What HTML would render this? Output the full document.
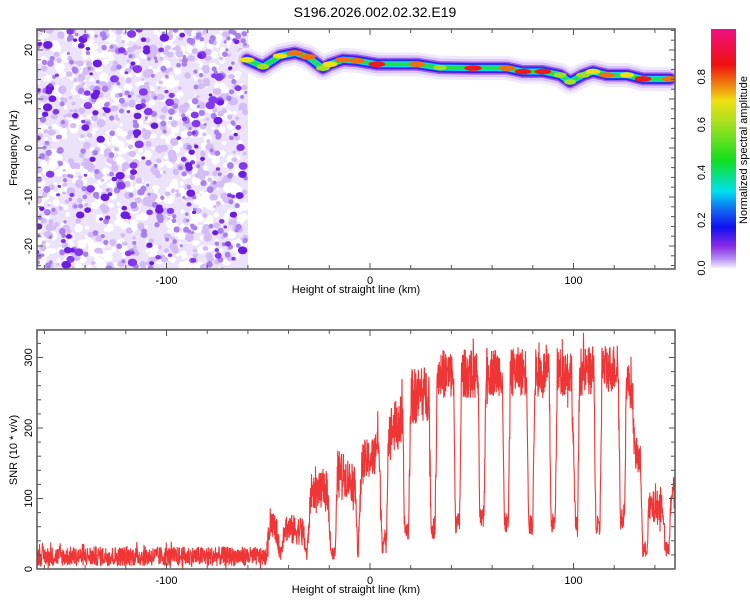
<!DOCTYPE html>
<html><head><meta charset="utf-8"><style>
body{margin:0;background:#fff;}
svg{display:block;font-family:"Liberation Sans",sans-serif;}
</style></head><body>
<svg id="chart" width="750" height="600" viewBox="0 0 750 600">
<defs>
<linearGradient id="cbar" x1="0" y1="1" x2="0" y2="0">
<stop offset="0" stop-color="#f4eefc"/><stop offset="0.04" stop-color="#b48cf2"/>
<stop offset="0.09" stop-color="#8a2be8"/><stop offset="0.17" stop-color="#1010f0"/>
<stop offset="0.25" stop-color="#1070f0"/><stop offset="0.32" stop-color="#00e0f0"/>
<stop offset="0.45" stop-color="#10e020"/><stop offset="0.6" stop-color="#a0e020"/>
<stop offset="0.7" stop-color="#f0e010"/><stop offset="0.78" stop-color="#f07010"/>
<stop offset="0.85" stop-color="#f01010"/><stop offset="1" stop-color="#f01080"/>
</linearGradient>
<clipPath id="clipTop"><rect x="37" y="29" width="638" height="240"/></clipPath>
<clipPath id="clipBot"><rect x="37" y="330" width="638" height="239"/></clipPath>
</defs>
<text x="375" y="17" text-anchor="middle" font-size="14">S196.2026.002.02.32.E19</text>
<g id="topPlot" clip-path="url(#clipTop)"></g>
<g id="botPlot" clip-path="url(#clipBot)"></g>
<g id="axes"></g>
<rect x="711" y="29" width="25" height="239" fill="url(#cbar)"/>
<text transform="translate(747,150) rotate(-90)" text-anchor="middle" font-size="11">Normalized spectral amplitude</text>
<text transform="translate(17,148) rotate(-90)" text-anchor="middle" font-size="11">Frequency (Hz)</text>
<text x="356" y="293" text-anchor="middle" font-size="11">Height of straight line (km)</text>
<text transform="translate(17,450) rotate(-90)" text-anchor="middle" font-size="11">SNR (10 * v/v)</text>
<text x="356" y="593" text-anchor="middle" font-size="11">Height of straight line (km)</text>
</svg>
<script>
// ---- data ----
const ridgeKm   = [-60.4,-52.6,-44.2,-36.9,-30.5,-23.1,-19.7,-13.3,-6.4,3.4,23.1,34.4,50.6,67.3,75.2,85,93.4,98.3,104.7,109.6,116.5,126.3,134.2,147.4];
const ridgeFreq = [18.0,16.6,18.8,19.4,18.6,16.3,17.1,18.0,17.8,17.1,17.1,16.4,16.3,16.3,15.6,15.6,14.9,13.5,14.9,15.6,14.9,14.9,14.1,14.1];
const ridgeAmp  = [0.75,0.55,0.7,0.85,0.8,0.65,0.75,0.85,0.8,0.9,0.85,0.6,0.95,0.85,0.9,0.88,0.6,0.5,0.65,0.75,0.8,0.7,0.9,0.85];
const snrKm     = [-163,-60,-51,-49,-46,-44,-42,-38,-33,-31,-29,-21,-19,-17,-16,-11,-7,-6,-4,2,4,6,8,9,16,17,19,20,29,30,32,33,41,42,44,45,53,54,56,57,65,66,68,69,77,78,80,81,88,89,91,92,99,101,102,103,110,111,113,114,122,123,125,126,129,130,133,134,136,137,144,145,147,148,150];
const snrVal    = [18,18,17,70,55,20,60,55,55,17,110,112,22,22,140,130,116,15,150,160,190,37,37,195,210,55,55,244,250,57,57,278,275,65,65,278,275,70,70,280,280,65,65,280,280,62,62,278,278,65,65,280,280,60,60,280,280,58,58,285,285,70,70,270,250,165,150,27,27,84,90,27,27,108,108];
const snrSpread = [14,14,12,20,20,12,20,22,20,10,25,25,10,10,30,30,25,10,30,30,40,15,15,35,40,15,15,40,40,15,15,35,35,15,15,35,35,15,15,35,35,15,15,35,35,15,15,35,35,15,15,35,35,15,15,35,35,15,15,35,35,15,15,30,30,25,25,12,12,25,25,12,12,25,25];
const xTickLabels = [-100,0,100];
const freqTickLabels = [-20,-10,0,10,20];
const snrTickLabels = [0,100,200,300];
const cbarTickLabels = [0.0,0.2,0.4,0.6,0.8];
// ---- scales ----
const X = km => 370 + km*2.035;
const XI = px => (px-370)/2.035;
const YF = f => 148 - f*4.9;
const YS = v => 569 - v*0.705;
const YC = c => 268 - c*239;
const NS='http://www.w3.org/2000/svg';
function mk(tag, attrs, parent){const e=document.createElementNS(NS,tag);for(const k in attrs)e.setAttribute(k,attrs[k]);parent.appendChild(e);return e;}
const topG=document.getElementById('topPlot'), botG=document.getElementById('botPlot'), axes=document.getElementById('axes');

// noise texture (background left of the onset)
let seed=12345; const rnd=()=>{seed=(seed*1103515245+12345)%2147483648;return seed/2147483648;};
const noiseBg=mk('rect',{x:37,y:29,width:X(-60)-37,height:240,fill:'#ece2fa'},topG);


const nx=()=>37+rnd()*(X(-61)-37);
for(let i=0;i<700;i++){const r=1.5+rnd()*3.5;mk('ellipse',{cx:nx(),cy:29+rnd()*240,rx:r,ry:r*(0.7+rnd()*0.5),fill:'#ffffff'},topG);}
for(let i=0;i<450;i++){const r=1.5+rnd()*3;mk('ellipse',{cx:nx(),cy:29+rnd()*240,rx:r,ry:r*(0.7+rnd()*0.4),fill:'#d4bdf6'},topG);}
for(let i=0;i<260;i++){const r=1.5+rnd()*2;mk('ellipse',{cx:nx(),cy:29+rnd()*240,rx:r,ry:r,fill:'#a880f0'},topG);}
for(let i=0;i<150;i++){const r=1.5+rnd()*2.5;mk('ellipse',{cx:nx(),cy:29+rnd()*240,rx:r*1.2,ry:r,fill:rnd()<0.5?'#8438ec':'#6c1ce0'},topG);}

// ridge
const pts=ridgeKm.map((k,i)=>X(k)+','+YF(ridgeFreq[i])).join(' ');
[[24,'#f0e8fc'],[18,'#d8c4f6'],[13,'#9a60ee'],[10,'#5a10e8'],[8,'#1040f0'],[6,'#10d8f0'],[3.5,'#20e040']].forEach(([w,c])=>{
  const l=mk('polyline',{points:pts,fill:'none',stroke:c,'stroke-width':w,'stroke-linejoin':'round','stroke-linecap':'round'},topG);
  
  
});
ridgeKm.forEach((k,i)=>{
  const a=ridgeAmp[i];
  const col=a>0.85?'#f01818':a>0.75?'#f07010':a>0.65?'#f0e010':'#a0e020';
  const c=mk('ellipse',{cx:X(k),cy:YF(ridgeFreq[i]),rx:3+a*6,ry:2.8,fill:col},topG);
  
  
});

// SNR: interpolate data, draw dense noisy trace within spread
function interp(km,arr){
  if(km<=snrKm[0])return arr[0];
  for(let i=1;i<snrKm.length;i++){if(km<=snrKm[i]){const t=(km-snrKm[i-1])/(snrKm[i]-snrKm[i-1]);return arr[i-1]+t*(arr[i]-arr[i-1]);}}
  return arr[arr.length-1];
}
let tr=[];
for(let px=37;px<=676;px+=0.25){
  const km=XI(px);const v=interp(km,snrVal), s=interp(km,snrSpread);
  const j=(rnd()*2-1);
  tr.push(px+','+YS(Math.max(0,v+s*j*(rnd()<0.05?1.6:1))));
}
const line=mk('polyline',{points:tr.join(' '),fill:'none',stroke:'#ee2a2a','stroke-width':1.1,'stroke-opacity':0.95},botG);



// axes frames & ticks
function frame(y0,y1,name){const r=mk('rect',{x:37,y:y0,width:638,height:y1-y0,fill:'none',stroke:'#555','stroke-width':1.5},axes);}
frame(29,269,'top-plot-frame');frame(330,569,'bottom-plot-frame');
function xticks(y0,y1){for(let k=-160;k<=140;k+=20){const x=X(k);const len=(k%100===0)?6:4;
  mk('line',{x1:x,y1:y0,x2:x,y2:y0+len,stroke:'#555'},axes);mk('line',{x1:x,y1:y1,x2:x,y2:y1-len,stroke:'#555'},axes);}
  xTickLabels.forEach(k=>{const t=mk('text',{x:X(k),y:y1+15,'text-anchor':'middle','font-size':11},axes);t.textContent=k;});}
xticks(29,269);xticks(330,569);
for(let f=-24;f<=24;f+=2){const y=YF(f);const len=f%10===0?6:4;mk('line',{x1:37,y1:y,x2:37+len,y2:y,stroke:'#555'},axes);mk('line',{x1:675,y1:y,x2:675-len,y2:y,stroke:'#555'},axes);}
freqTickLabels.forEach(f=>{const t=mk('text',{transform:`translate(32,${YF(f)}) rotate(-90)`,'text-anchor':'middle','font-size':11},axes);t.textContent=f;});
for(let v=0;v<=330;v+=20){const y=YS(v);const len=v%100===0?6:4;mk('line',{x1:37,y1:y,x2:37+len,y2:y,stroke:'#555'},axes);mk('line',{x1:675,y1:y,x2:675-len,y2:y,stroke:'#555'},axes);}
snrTickLabels.forEach(v=>{const t=mk('text',{transform:`translate(32,${YS(v)}) rotate(-90)`,'text-anchor':'middle','font-size':11},axes);t.textContent=v;});
cbarTickLabels.forEach(c=>{const t=mk('text',{transform:`translate(705,${YC(c)}) rotate(-90)`,'text-anchor':'middle','font-size':11},axes);t.textContent=c.toFixed(1);});
</script>
</body></html>
